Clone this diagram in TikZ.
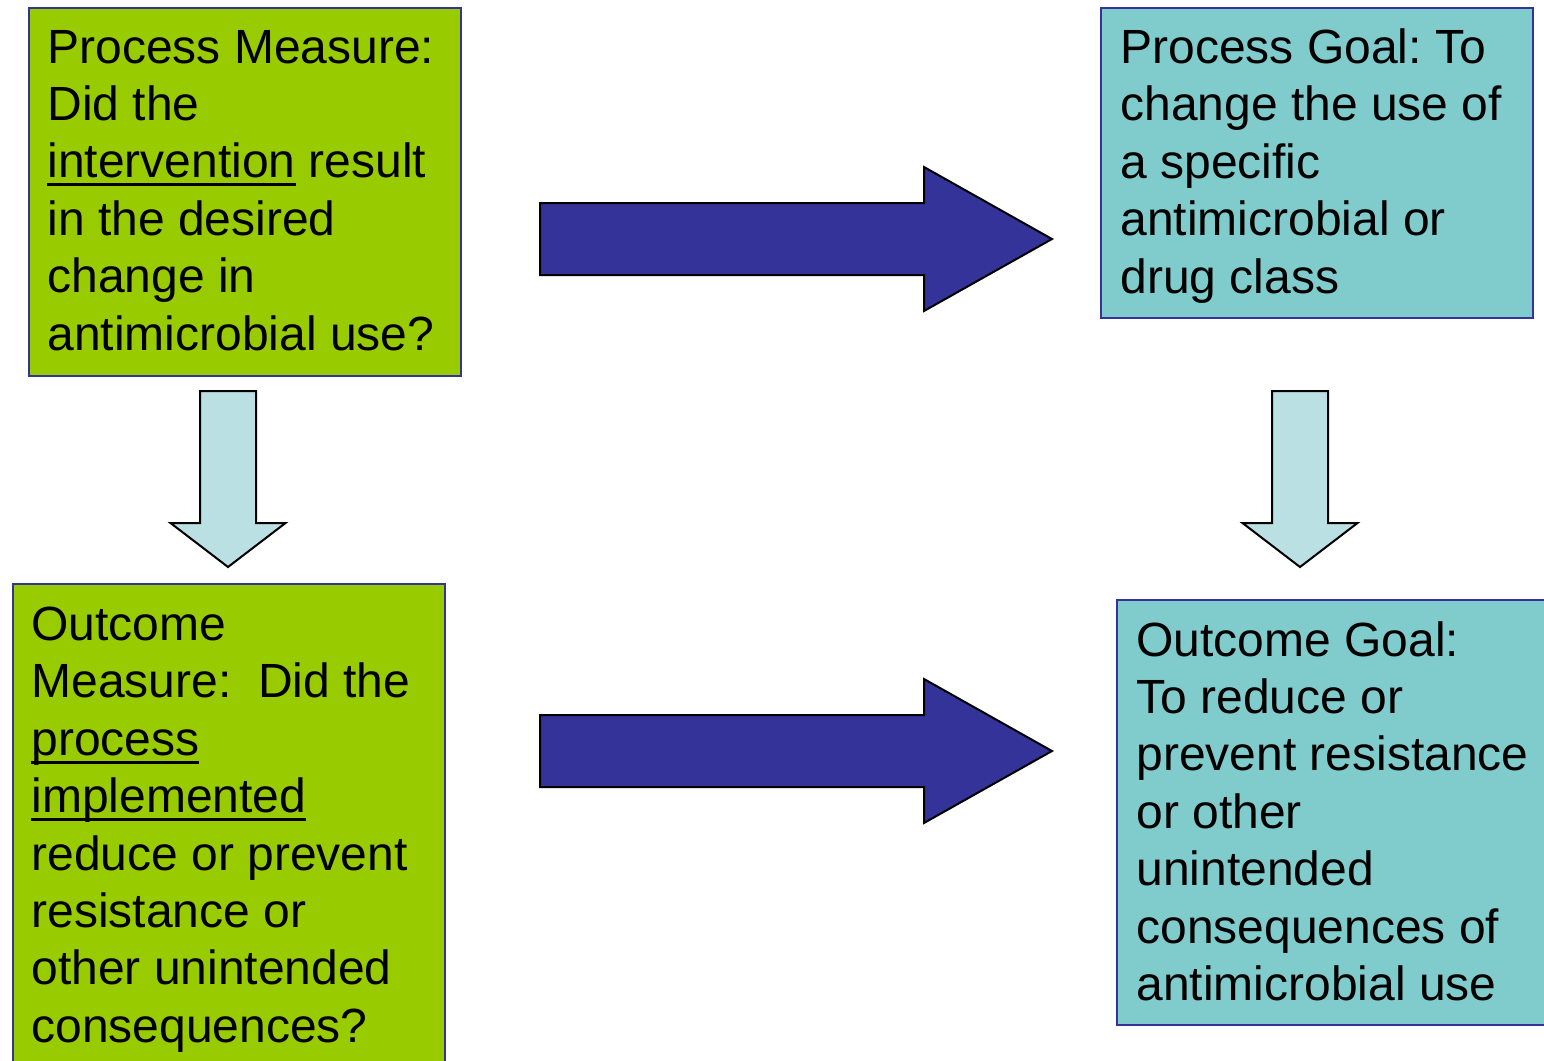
\documentclass[tikz,border=0pt]{standalone}
\usepackage{fontspec}
\setmainfont{Liberation Sans}
\definecolor{boxgreen}{HTML}{99CC00}
\definecolor{boxteal}{HTML}{80CCCC}
\definecolor{edgeblue}{HTML}{333399}
\definecolor{arrowdark}{HTML}{333399}
\definecolor{arrowlight}{HTML}{BBE0E3}
\newsavebox\ulwordbox
\newcommand\ulword[1]{\sbox\ulwordbox{#1}\rlap{\rule[-4.25pt]{\wd\ulwordbox}{1.5pt}}\usebox\ulwordbox}
\newcommand\firststrut{\rule{0pt}{20pt}}
\begin{document}
\frenchspacing
\begin{tikzpicture}[x=0.5pt,y=-0.5pt,
  panel/.style={draw=edgeblue, line width=1pt, rectangle, inner sep=0pt, anchor=north west},
  greenpanel/.style={panel, fill=boxgreen},
  tealpanel/.style={panel, fill=boxteal},
  paneltext/.style={anchor=north west, inner sep=0pt, align=left, font=\fontsize{24pt}{28.7pt}\selectfont, text=black},
  bigarrow/.style={draw=black, line width=1pt, fill=arrowdark},
  downarrow/.style={draw=black, line width=1pt, fill=arrowlight}
]
\useasboundingbox (0,0) rectangle (1544,1061);
\clip (0,0) rectangle (1544,1061);

% panels
\node[greenpanel, minimum width=216pt, minimum height=184pt] (pm) at (28,7) {};
\node[tealpanel, minimum width=216pt, minimum height=155pt] (pg) at (1100,7) {};
\node[greenpanel, minimum width=216pt, minimum height=250pt] (om) at (12,583) {};
\node[tealpanel, minimum width=225pt, minimum height=212.5pt] (og) at (1116,599) {};

% texts
\node[paneltext] (pmtext) at ([xshift=9.5pt,yshift=-7.85pt]pm.north west)
  {\firststrut Process Measure:\\Did the\\\ulword{intervention} result\\in the desired\\change in\\antimicrobial use?};
\node[paneltext] (pgtext) at ([xshift=10pt,yshift=-8pt]pg.north west)
  {\firststrut Process Goal: To\\change the use of\\a specific\\antimicrobial or\\drug class};
\node[paneltext] (omtext) at ([xshift=9.5pt,yshift=-8.5pt]om.north west)
  {\firststrut Outcome\\Measure:\ \ Did the\\\ulword{process}\\\ulword{implemented}\\reduce or prevent\\resistance or\\other unintended\\consequences?};
\node[paneltext] (ogtext) at ([xshift=10pt,yshift=-8.35pt]og.north west)
  {\firststrut Outcome Goal:\\To reduce or\\prevent resistance\\or other\\unintended\\consequences of\\antimicrobial use};

% arrow anchors
\coordinate (a1tail) at (540,239);
\coordinate (a1tip) at (1052,239);
\coordinate (a2tail) at (540,751);
\coordinate (a2tip) at (1052,751);
\coordinate (d1tail) at (228,391);
\coordinate (d1tip) at (228,567);
\coordinate (d2tail) at (1300,391);
\coordinate (d2tip) at (1300,567);

% block arrows (process -> goal)
\draw[bigarrow] (a1tail) ++(0,-36) -- ++(384,0) -- ++(0,-36) -- (a1tip)
  -- ++(-128,72) -- ++(0,-36) -- ++(-384,0) -- cycle;
\draw[bigarrow] (a2tail) ++(0,-36) -- ++(384,0) -- ++(0,-36) -- (a2tip)
  -- ++(-128,72) -- ++(0,-36) -- ++(-384,0) -- cycle;

% down arrows (process -> outcome)
\draw[downarrow] (d1tail) ++(-28,0) -- ++(56,0) -- ++(0,132) -- ++(29.5,0) -- (d1tip)
  -- ++(-57.5,-44) -- ++(29.5,0) -- cycle;
\draw[downarrow] (d2tail) ++(-28,0) -- ++(56,0) -- ++(0,132) -- ++(29.5,0) -- (d2tip)
  -- ++(-57.5,-44) -- ++(29.5,0) -- cycle;
\end{tikzpicture}
\end{document}
